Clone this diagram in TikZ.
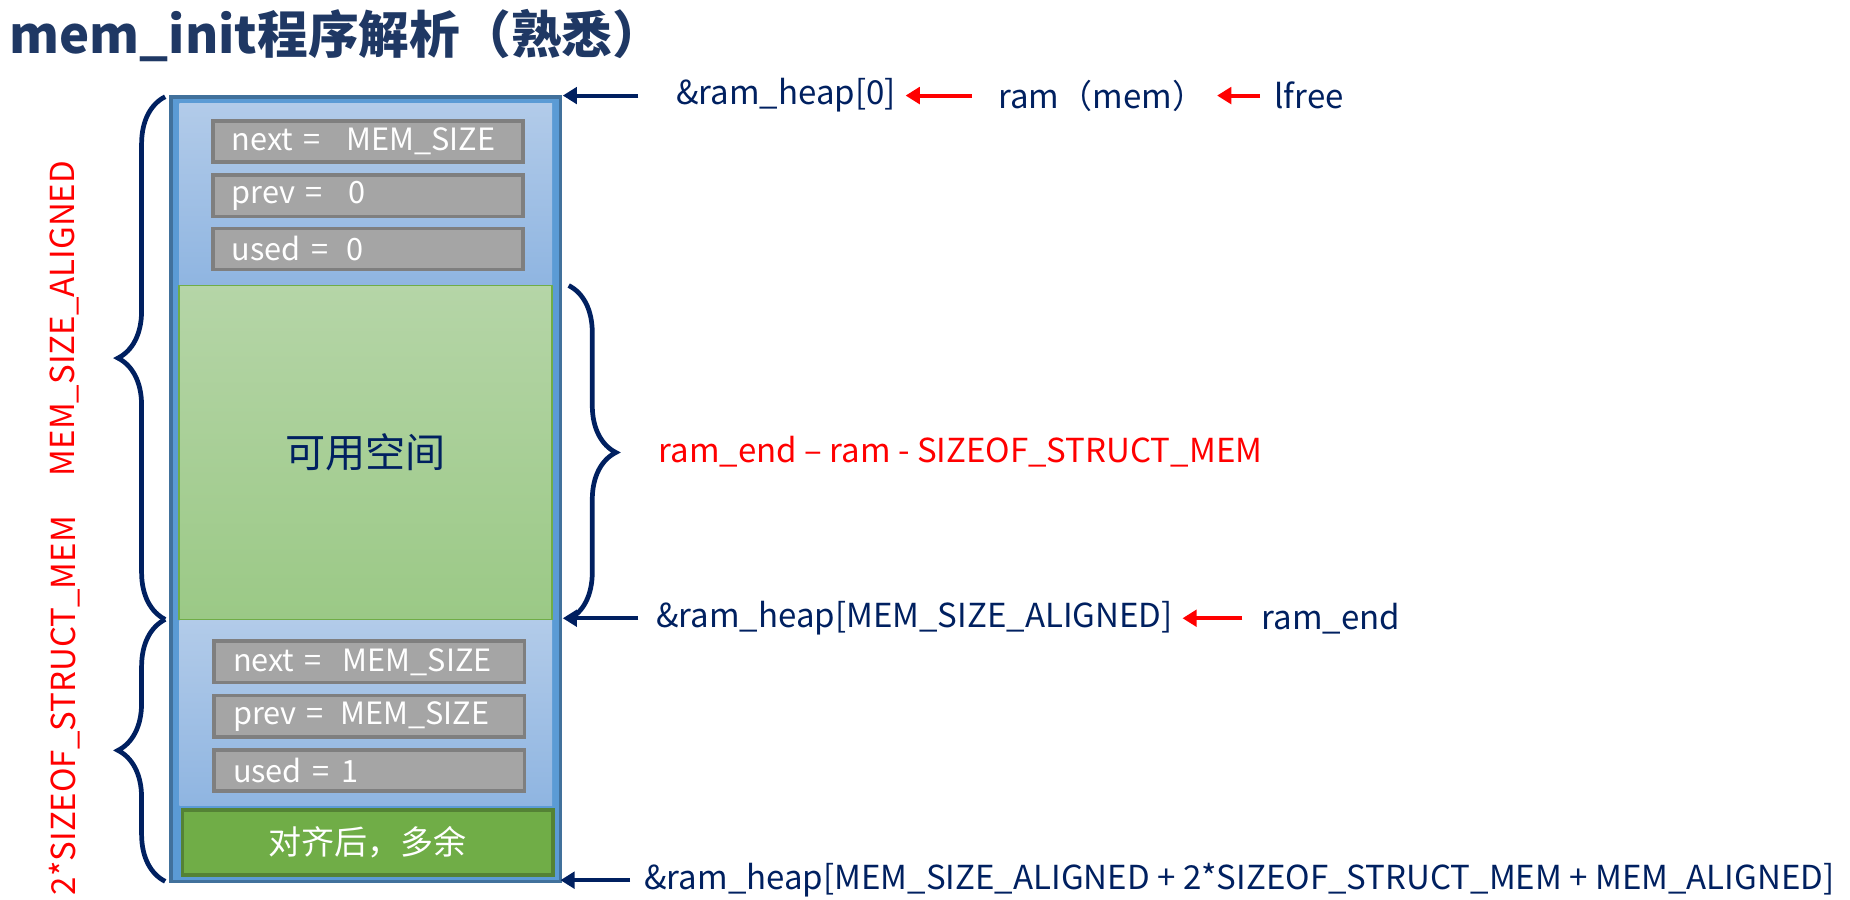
\documentclass[tikz,border=0pt]{standalone}
\usepackage{fontspec}
\setmainfont{Noto Sans CJK SC}
\usetikzlibrary{arrows.meta,decorations.pathreplacing}
\definecolor{navy}{HTML}{002060}
\definecolor{tnavy}{HTML}{1F3864}
\definecolor{outerb}{HTML}{5B9BD5}
\definecolor{outerd}{HTML}{41719C}
\definecolor{graybox}{HTML}{A5A5A5}
\definecolor{grayd}{HTML}{7F7F7F}
\definecolor{dgreen}{HTML}{70AD47}
\definecolor{dgreend}{HTML}{548235}
\tikzset{
 x=1pt,y=-1pt,
 field/.style={draw=grayd,line width=3pt,fill=graybox,minimum width=263pt,minimum height=35pt,text width=263pt,align=left,anchor=north west,text=white,font=\fontsize{26}{28}\selectfont,inner sep=0pt},
 lbl/.style={anchor=west,text=navy,font=\fontsize{28}{30}\selectfont,inner sep=0pt},
 rlbl/.style={text=red,font=\fontsize{28}{30}\selectfont,inner sep=0pt},
 narrow/.style={draw=navy,line width=3.5pt,-{Triangle[length=12pt,width=14pt]}},
 rarrow/.style={draw=red,line width=3.5pt,-{Triangle[length=12pt,width=14pt]}},
 brc/.style={draw=navy,line width=4pt,decorate,decoration={brace,amplitude=40pt}},
}
\begin{document}
\begin{tikzpicture}
\useasboundingbox (0,0) rectangle (1568,762);
\node[anchor=west,text=tnavy,font=\fontsize{43}{46}\selectfont\bfseries,inner sep=0pt] (title) at (8,30) {mem\_init程序解析（熟悉）};
% outer column
\draw[draw=outerd,line width=3pt,fill=outerb] (145,82) rectangle (475,747);
\shade[top color={rgb,255:red,178;green,203;blue,233},bottom color={rgb,255:red,143;green,181;blue,225}] (152,88) rectangle (468,242);
\shade[top color={rgb,255:red,181;green,213;blue,167},bottom color={rgb,255:red,155;green,201;blue,134}] (152,242) rectangle (468,525);
\draw[draw={rgb,255:red,112;green,173;blue,71},line width=1.5pt] (152,242) rectangle (468,525);
\shade[top color={rgb,255:red,178;green,203;blue,233},bottom color={rgb,255:red,143;green,181;blue,225}] (152,526) rectangle (468,683);
\node[draw=dgreend,line width=3pt,fill=dgreen,minimum width=314pt,minimum height=55pt,anchor=north west,text=white,font=\fontsize{28}{30}\selectfont] (extra) at (153,685) {对齐后，多余};
\node[text=navy,font=\fontsize{34}{36}\selectfont] (avail) at (310,383) {可用空间};
% fields
\node[field] (n1) at (179,101) {\hspace{16pt}next =\hspace{22pt}MEM\_SIZE};
\node[field] (p1) at (179,147) {\hspace{16pt}prev =\hspace{22pt}0};
\node[field] (u1) at (179,192) {\hspace{16pt}used =\hspace{16pt}0};
\node[field] (n2) at (180,542) {\hspace{16pt}next =\hspace{18pt}MEM\_SIZE};
\node[field] (p2) at (180,588) {\hspace{16pt}prev =\hspace{14pt}MEM\_SIZE};
\node[field] (u2) at (180,634) {\hspace{16pt}used =\hspace{10pt}1};
% coordinates
\coordinate (top) at (140,82);
\coordinate (mid) at (140,525);
\coordinate (bot) at (140,747);
\coordinate (gtop) at (482,242);
\coordinate (gbot) at (482,525);
\draw[brc] (mid) -- (top);
\draw[brc] (bot) -- (mid);
\draw[brc] (gtop) -- (gbot);
\node[rlbl,rotate=90] (l1) at (55,270) {MEM\_SIZE\_ALIGNED};
\node[rlbl,rotate=90] (l2) at (55,598) {2*SIZEOF\_STRUCT\_MEM};
\node[rlbl,anchor=west] (l3) at (558,383) {ram\_end – ram - SIZEOF\_STRUCT\_MEM};
% labels right
\coordinate (a1) at (477,81);
\coordinate (a2) at (477,524);
\coordinate (a3) at (475,746);
\node[lbl] (h0) at (573,81) {\&ram\_heap[0]};
\node[lbl] (ram) at (846,81) {ram（mem）};
\node[lbl] (lfree) at (1080,81) {lfree};
\node[lbl] (h1) at (556,524) {\&ram\_heap[MEM\_SIZE\_ALIGNED]};
\node[lbl] (rend) at (1069,524) {ram\_end};
\node[lbl] (h2) at (546,746) {\&ram\_heap[MEM\_SIZE\_ALIGNED + 2*SIZEOF\_STRUCT\_MEM + MEM\_ALIGNED]};
\draw[narrow] ([xshift=-32pt]h0.west) -- (a1);
\draw[rarrow] ([xshift=-22pt]ram.west) -- ([xshift=8pt]h0.east);
\draw[rarrow] ([xshift=-12pt]lfree.west) -- ([xshift=10pt]ram.east);
\draw[narrow] ([xshift=-15pt]h1.west) -- (a2);
\draw[rarrow] ([xshift=-16pt]rend.west) -- ([xshift=8pt]h1.east);
\draw[narrow] ([xshift=-12pt]h2.west) -- (a3);
\end{tikzpicture}
\end{document}
